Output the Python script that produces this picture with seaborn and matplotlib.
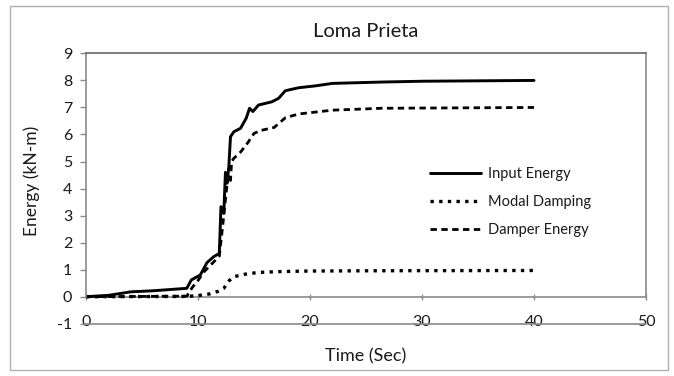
import matplotlib
matplotlib.use("Agg")
import matplotlib.pyplot as plt
from matplotlib.patches import Rectangle
import seaborn as sns
import pandas as pd

# Loma Prieta record: cumulative energy histories (kN-m) against time (s)
t_input = [0, 2, 4, 6, 9.0, 9.4, 10.2, 10.8, 11.4, 11.9, 12.05, 12.3, 12.45,
           12.6, 12.75, 12.9, 13.2, 13.8, 14.3, 14.6, 14.9, 15.4, 16.6, 17.2,
           17.8, 19.0, 20.5, 22.0, 26.4, 30, 40]
e_input = [0, 0.05, 0.18, 0.22, 0.31, 0.62, 0.8, 1.26, 1.48, 1.6, 3.33, 3.08,
           4.6, 4.2, 4.8, 5.92, 6.1, 6.23, 6.6, 6.97, 6.85, 7.09, 7.21, 7.34,
           7.62, 7.73, 7.8, 7.89, 7.94, 7.97, 8.0]

t_modal = [0, 9, 10, 11, 11.8, 12.3, 12.8, 13.2, 14.4, 15.5, 17.4, 20, 26.4, 40]
e_modal = [0, 0.01, 0.04, 0.1, 0.2, 0.31, 0.6, 0.74, 0.85, 0.9, 0.93, 0.95,
           0.96, 0.97]

t_damper = [0, 9.0, 9.5, 10.0, 10.6, 11.2, 11.9, 12.2, 12.5, 12.7, 12.9, 13.0,
            13.2, 13.8, 14.4, 15.0, 15.6, 16.8, 17.8, 19.0, 22.0, 26.4, 40]
e_damper = [0, 0.02, 0.35, 0.6, 0.95, 1.2, 1.5, 2.6, 3.8, 4.5, 4.3, 5.0, 5.12,
            5.35, 5.67, 6.04, 6.15, 6.26, 6.62, 6.76, 6.9, 6.97, 7.0]

series_names = ["Input Energy", "Modal Damping", "Damper Energy"]
x_ticks = [0, 10, 20, 30, 40, 50]
y_ticks = list(range(-1, 10))

sns.set_style("white")
plt.rcParams["font.family"] = ["Lato", "DejaVu Sans"]

fig = plt.figure(figsize=(6.74, 3.76), dpi=100)
ax = fig.add_axes([0.1276, 0.139, 0.8309, 0.719])

grey = "#8a8a8a"
ink = "#1a1a1a"

frames = [
    pd.DataFrame({"t": t_input, "E": e_input}),
    pd.DataFrame({"t": t_modal, "E": e_modal}),
    pd.DataFrame({"t": t_damper, "E": e_damper}),
]
styles = [
    dict(linestyle="-", linewidth=2.1),
    dict(linestyle=(0, (1.0, 1.6)), linewidth=2.4),
    dict(linestyle=(0, (2.3, 1.6)), linewidth=2.0),
]
for df, name, st in zip(frames, series_names, styles):
    sns.lineplot(data=df, x="t", y="E", ax=ax, color="black", label=name,
                 estimator=None, sort=False, **st)

ax.set_xlim(0, 50)
ax.set_ylim(-1, 9)
ax.set_xticks(x_ticks)
ax.set_yticks(y_ticks)
ax.set_yticklabels([str(v) for v in y_ticks])
ax.set_xticklabels([str(v) for v in x_ticks])

# plot frame spans 0..9; horizontal axis line sits at -1
for side in ("left", "right"):
    ax.spines[side].set_bounds(0, 9)
for side in ("left", "right", "top", "bottom"):
    ax.spines[side].set_color(grey)
    ax.spines[side].set_linewidth(1.2)
ax.spines["top"].set_color("#666666")

ax.tick_params(axis="y", which="both", left=True, length=4, width=1,
               color=grey, pad=6, labelsize=11.5, labelcolor=ink)
ax.tick_params(axis="x", which="both", bottom=False, length=0, pad=-6,
               labelsize=11.5, labelcolor=ink)

# zero line with its own tick marks
zero_axis = ax.secondary_xaxis(0.1)
zero_axis.set_xticks(x_ticks)
zero_axis.tick_params(direction="inout", length=5, width=1, color=grey,
                      labelbottom=False)
zero_axis.spines["bottom"].set_color(grey)
zero_axis.spines["bottom"].set_linewidth(1.2)

ax.set_xlabel("Time (Sec)", fontsize=13, color=ink)
ax.set_ylabel("Energy (kN-m)", fontsize=12.5, color=ink)
ax.xaxis.set_label_coords(0.5, -0.09)
ax.yaxis.set_label_coords(-0.082, 0.53)
ax.set_title("Loma Prieta", fontsize=14.5, color=ink, pad=12)

leg = ax.legend(loc="upper left", bbox_to_anchor=(0.638, 0.555),
                bbox_transform=fig.transFigure, frameon=False, fontsize=10.5,
                handlelength=3.5, handletextpad=0.5, labelspacing=0.95,
                borderpad=0, borderaxespad=0)
for txt in leg.get_texts():
    txt.set_color(ink)

# outer chart border
fig.add_artist(Rectangle((10 / 674, 1 - 370 / 376), 658 / 674, 364 / 376,
                         transform=fig.transFigure, fill=False,
                         edgecolor="#b0b0b0", linewidth=1.0))

fig.savefig("out.png", dpi=100)
